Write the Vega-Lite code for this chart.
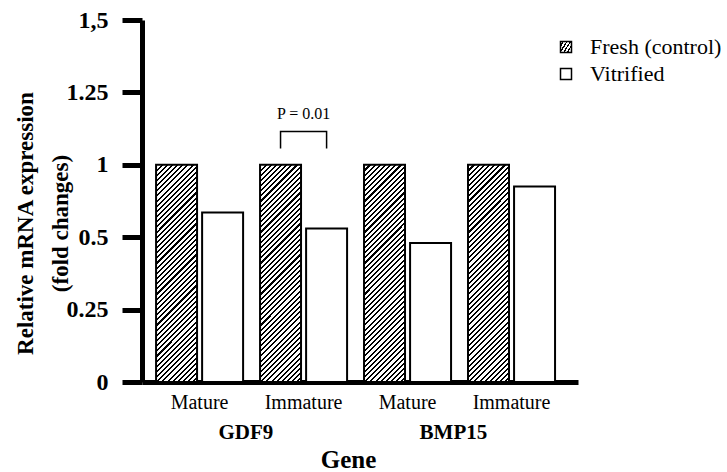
{
  "$schema": "https://vega.github.io/schema/vega-lite/v6.json",
  "autosize": {"type": "none"},
  "padding": {"left": 142, "top": 20, "right": 149, "bottom": 90},
  "width": 436,
  "height": 362,
  "background": "white",
  "config": {"view": {"stroke": null}, "font": "Liberation Serif"},
  "data": {"values": [
    {"gene": "GDF9", "group": "GDF9 Mature", "series": "Fresh (control)", "value": 1},
    {"gene": "GDF9", "group": "GDF9 Mature", "series": "Vitrified", "value": 0.67},
    {"gene": "GDF9", "group": "GDF9 Immature", "series": "Fresh (control)", "value": 1},
    {"gene": "GDF9", "group": "GDF9 Immature", "series": "Vitrified", "value": 0.56},
    {"gene": "BMP15", "group": "BMP15 Mature", "series": "Fresh (control)", "value": 1},
    {"gene": "BMP15", "group": "BMP15 Mature", "series": "Vitrified", "value": 0.48},
    {"gene": "BMP15", "group": "BMP15 Immature", "series": "Fresh (control)", "value": 1},
    {"gene": "BMP15", "group": "BMP15 Immature", "series": "Vitrified", "value": 0.85}
  ]},
  "layer": [
    {
      "layer": [
        {
          "mark": {"type": "bar", "stroke": "black", "strokeWidth": 2},
          "encoding": {
            "x": {
              "field": "group", "type": "nominal",
              "scale": {"domain": ["GDF9 Mature", "GDF9 Immature", "BMP15 Mature", "BMP15 Immature"], "paddingInner": 0.163, "paddingOuter": 0.178, "align": 0.38},
              "axis": {"title": null, "labelExpr": "split(datum.label, ' ')[1]", "ticks": false, "domainColor": "black", "domainWidth": 5, "labelFont": "Liberation Serif", "labelFontSize": 20, "labelColor": "black", "labelPadding": 10, "labelAngle": 0}
            },
            "xOffset": {
              "field": "series", "type": "nominal",
              "scale": {"domain": ["Fresh (control)", "Vitrified"], "paddingInner": 0.11, "paddingOuter": 0}
            },
            "y": {
              "field": "value", "type": "quantitative",
              "scale": {"domain": [0, 0.25, 0.5, 1, 1.25, 1.5], "range": [362, 289.6, 217.2, 144.8, 72.4, 0], "nice": false, "zero": false},
              "axis": {
                "values": [0, 0.25, 0.5, 1, 1.25, 1.5],
                "labelExpr": "datum.value === 1.5 ? '1,5' : '' + datum.value",
                "grid": false, "domainColor": "black", "domainWidth": 5,
                "tickColor": "black", "tickWidth": 5, "tickSize": 20,
                "labelFont": "Liberation Serif", "labelFontWeight": "bold", "labelFontSize": 24, "labelColor": "black", "labelPadding": 14,
                "title": ["Relative mRNA expression", "(fold changes)"],
                "titleFont": "Liberation Serif", "titleFontSize": 23, "titleFontWeight": "bold", "titleColor": "black",
                "titleLineHeight": 35, "titleAngle": -90, "titleX": -117, "titleY": 203, "titleAlign": "center", "titleBaseline": "middle"
              }
            },
            "fill": {
              "field": "series", "type": "nominal",
              "scale": {
                "domain": ["Fresh (control)", "Vitrified"],
                "range": [
                  {"expr": "{gradient:'linear',x1:0,y1:0,x2:0.2167,y2:1.1479,stops:[{offset:0,color:'#000'},{offset:0.008,color:'#000'},{offset:0.008,color:'#fff'},{offset:0.02,color:'#fff'},{offset:0.02,color:'#000'},{offset:0.028,color:'#000'},{offset:0.028,color:'#fff'},{offset:0.04,color:'#fff'},{offset:0.04,color:'#000'},{offset:0.048,color:'#000'},{offset:0.048,color:'#fff'},{offset:0.06,color:'#fff'},{offset:0.06,color:'#000'},{offset:0.068,color:'#000'},{offset:0.068,color:'#fff'},{offset:0.08,color:'#fff'},{offset:0.08,color:'#000'},{offset:0.088,color:'#000'},{offset:0.088,color:'#fff'},{offset:0.1,color:'#fff'},{offset:0.1,color:'#000'},{offset:0.108,color:'#000'},{offset:0.108,color:'#fff'},{offset:0.12,color:'#fff'},{offset:0.12,color:'#000'},{offset:0.128,color:'#000'},{offset:0.128,color:'#fff'},{offset:0.14,color:'#fff'},{offset:0.14,color:'#000'},{offset:0.148,color:'#000'},{offset:0.148,color:'#fff'},{offset:0.16,color:'#fff'},{offset:0.16,color:'#000'},{offset:0.168,color:'#000'},{offset:0.168,color:'#fff'},{offset:0.18,color:'#fff'},{offset:0.18,color:'#000'},{offset:0.188,color:'#000'},{offset:0.188,color:'#fff'},{offset:0.2,color:'#fff'},{offset:0.2,color:'#000'},{offset:0.208,color:'#000'},{offset:0.208,color:'#fff'},{offset:0.22,color:'#fff'},{offset:0.22,color:'#000'},{offset:0.228,color:'#000'},{offset:0.228,color:'#fff'},{offset:0.24,color:'#fff'},{offset:0.24,color:'#000'},{offset:0.248,color:'#000'},{offset:0.248,color:'#fff'},{offset:0.26,color:'#fff'},{offset:0.26,color:'#000'},{offset:0.268,color:'#000'},{offset:0.268,color:'#fff'},{offset:0.28,color:'#fff'},{offset:0.28,color:'#000'},{offset:0.288,color:'#000'},{offset:0.288,color:'#fff'},{offset:0.3,color:'#fff'},{offset:0.3,color:'#000'},{offset:0.308,color:'#000'},{offset:0.308,color:'#fff'},{offset:0.32,color:'#fff'},{offset:0.32,color:'#000'},{offset:0.328,color:'#000'},{offset:0.328,color:'#fff'},{offset:0.34,color:'#fff'},{offset:0.34,color:'#000'},{offset:0.348,color:'#000'},{offset:0.348,color:'#fff'},{offset:0.36,color:'#fff'},{offset:0.36,color:'#000'},{offset:0.368,color:'#000'},{offset:0.368,color:'#fff'},{offset:0.38,color:'#fff'},{offset:0.38,color:'#000'},{offset:0.388,color:'#000'},{offset:0.388,color:'#fff'},{offset:0.4,color:'#fff'},{offset:0.4,color:'#000'},{offset:0.408,color:'#000'},{offset:0.408,color:'#fff'},{offset:0.42,color:'#fff'},{offset:0.42,color:'#000'},{offset:0.428,color:'#000'},{offset:0.428,color:'#fff'},{offset:0.44,color:'#fff'},{offset:0.44,color:'#000'},{offset:0.448,color:'#000'},{offset:0.448,color:'#fff'},{offset:0.46,color:'#fff'},{offset:0.46,color:'#000'},{offset:0.468,color:'#000'},{offset:0.468,color:'#fff'},{offset:0.48,color:'#fff'},{offset:0.48,color:'#000'},{offset:0.488,color:'#000'},{offset:0.488,color:'#fff'},{offset:0.5,color:'#fff'},{offset:0.5,color:'#000'},{offset:0.508,color:'#000'},{offset:0.508,color:'#fff'},{offset:0.52,color:'#fff'},{offset:0.52,color:'#000'},{offset:0.528,color:'#000'},{offset:0.528,color:'#fff'},{offset:0.54,color:'#fff'},{offset:0.54,color:'#000'},{offset:0.548,color:'#000'},{offset:0.548,color:'#fff'},{offset:0.56,color:'#fff'},{offset:0.56,color:'#000'},{offset:0.568,color:'#000'},{offset:0.568,color:'#fff'},{offset:0.58,color:'#fff'},{offset:0.58,color:'#000'},{offset:0.588,color:'#000'},{offset:0.588,color:'#fff'},{offset:0.6,color:'#fff'},{offset:0.6,color:'#000'},{offset:0.608,color:'#000'},{offset:0.608,color:'#fff'},{offset:0.62,color:'#fff'},{offset:0.62,color:'#000'},{offset:0.628,color:'#000'},{offset:0.628,color:'#fff'},{offset:0.64,color:'#fff'},{offset:0.64,color:'#000'},{offset:0.648,color:'#000'},{offset:0.648,color:'#fff'},{offset:0.66,color:'#fff'},{offset:0.66,color:'#000'},{offset:0.668,color:'#000'},{offset:0.668,color:'#fff'},{offset:0.68,color:'#fff'},{offset:0.68,color:'#000'},{offset:0.688,color:'#000'},{offset:0.688,color:'#fff'},{offset:0.7,color:'#fff'},{offset:0.7,color:'#000'},{offset:0.708,color:'#000'},{offset:0.708,color:'#fff'},{offset:0.72,color:'#fff'},{offset:0.72,color:'#000'},{offset:0.728,color:'#000'},{offset:0.728,color:'#fff'},{offset:0.74,color:'#fff'},{offset:0.74,color:'#000'},{offset:0.748,color:'#000'},{offset:0.748,color:'#fff'},{offset:0.76,color:'#fff'},{offset:0.76,color:'#000'},{offset:0.768,color:'#000'},{offset:0.768,color:'#fff'},{offset:0.78,color:'#fff'},{offset:0.78,color:'#000'},{offset:0.788,color:'#000'},{offset:0.788,color:'#fff'},{offset:0.8,color:'#fff'},{offset:0.8,color:'#000'},{offset:0.808,color:'#000'},{offset:0.808,color:'#fff'},{offset:0.82,color:'#fff'},{offset:0.82,color:'#000'},{offset:0.828,color:'#000'},{offset:0.828,color:'#fff'},{offset:0.84,color:'#fff'},{offset:0.84,color:'#000'},{offset:0.848,color:'#000'},{offset:0.848,color:'#fff'},{offset:0.86,color:'#fff'},{offset:0.86,color:'#000'},{offset:0.868,color:'#000'},{offset:0.868,color:'#fff'},{offset:0.88,color:'#fff'},{offset:0.88,color:'#000'},{offset:0.888,color:'#000'},{offset:0.888,color:'#fff'},{offset:0.9,color:'#fff'},{offset:0.9,color:'#000'},{offset:0.908,color:'#000'},{offset:0.908,color:'#fff'},{offset:0.92,color:'#fff'},{offset:0.92,color:'#000'},{offset:0.928,color:'#000'},{offset:0.928,color:'#fff'},{offset:0.94,color:'#fff'},{offset:0.94,color:'#000'},{offset:0.948,color:'#000'},{offset:0.948,color:'#fff'},{offset:0.96,color:'#fff'},{offset:0.96,color:'#000'},{offset:0.968,color:'#000'},{offset:0.968,color:'#fff'},{offset:0.98,color:'#fff'},{offset:0.98,color:'#000'},{offset:0.988,color:'#000'},{offset:0.988,color:'#fff'},{offset:1,color:'#fff'}]}"},
                  "white"
                ]
              },
              "legend": {
                "title": null, "orient": "none", "legendX": 413, "legendY": 16,
                "symbolType": "square", "symbolSize": 121, "symbolStrokeColor": "black", "symbolStrokeWidth": 1.5,
                "labelFont": "Liberation Serif", "labelFontSize": 22, "labelColor": "black", "labelOffset": 13, "rowPadding": 5,
                "encode": {
                  "symbols": {
                    "update": {
                      "stroke": {"value": "black"},
                      "fill": [
                        {"test": "datum.value === 'Fresh (control)'", "value": {"gradient": "linear", "x1": 0, "y1": 0, "x2": 1, "y2": 1, "stops": [
                          {"offset": 0, "color": "#000"}, {"offset": 0.1, "color": "#000"}, {"offset": 0.1, "color": "#fff"}, {"offset": 0.25, "color": "#fff"},
                          {"offset": 0.25, "color": "#000"}, {"offset": 0.35, "color": "#000"}, {"offset": 0.35, "color": "#fff"}, {"offset": 0.5, "color": "#fff"},
                          {"offset": 0.5, "color": "#000"}, {"offset": 0.6, "color": "#000"}, {"offset": 0.6, "color": "#fff"}, {"offset": 0.75, "color": "#fff"},
                          {"offset": 0.75, "color": "#000"}, {"offset": 0.85, "color": "#000"}, {"offset": 0.85, "color": "#fff"}, {"offset": 1, "color": "#fff"}
                        ]}},
                        {"value": "white"}
                      ]
                    }
                  }
                }
              }
            }
          }
        },
        {
          "data": {"values": [
            {"group": "GDF9 Immature", "series": "Fresh (control)", "value": 1.056, "step": 1},
            {"group": "GDF9 Immature", "series": "Fresh (control)", "value": 1.115, "step": 2},
            {"group": "GDF9 Immature", "series": "Vitrified", "value": 1.115, "step": 3},
            {"group": "GDF9 Immature", "series": "Vitrified", "value": 1.056, "step": 4}
          ]},
          "mark": {"type": "line", "stroke": "black", "strokeWidth": 1.5},
          "encoding": {
            "x": {"field": "group", "type": "nominal"},
            "xOffset": {"field": "series", "type": "nominal"},
            "y": {"field": "value", "type": "quantitative"},
            "order": {"field": "step", "type": "quantitative"}
          }
        },
        {
          "data": {"values": [{"group": "GDF9 Immature", "value": 1.174, "label": "P = 0.01"}]},
          "mark": {"type": "text", "font": "Liberation Serif", "fontSize": 16, "color": "black"},
          "encoding": {
            "x": {"field": "group", "type": "nominal"},
            "y": {"field": "value", "type": "quantitative"},
            "text": {"field": "label"}
          }
        }
      ]
    },
    {
      "mark": {"type": "text", "text": ""},
      "encoding": {
        "x": {
          "field": "gene", "type": "nominal",
          "scale": {"type": "band", "domain": ["GDF9", "BMP15"], "paddingInner": 0, "paddingOuter": 0.05, "align": 0},
          "axis": {
            "orient": "bottom", "domain": false, "ticks": false, "labelAngle": 0, "bandPosition": 0.5, "labelAlign": "center",
            "labelFont": "Liberation Serif", "labelFontWeight": "bold", "labelFontSize": 21, "labelColor": "black", "labelPadding": 39,
            "title": "Gene", "titleFont": "Liberation Serif", "titleFontWeight": "bold", "titleFontSize": 25, "titleColor": "black", "titlePadding": 5,
            "titleX": 206, "titleAlign": "center"
          }
        }
      }
    }
  ],
  "resolve": {"scale": {"x": "independent"}, "axis": {"x": "independent"}}
}
